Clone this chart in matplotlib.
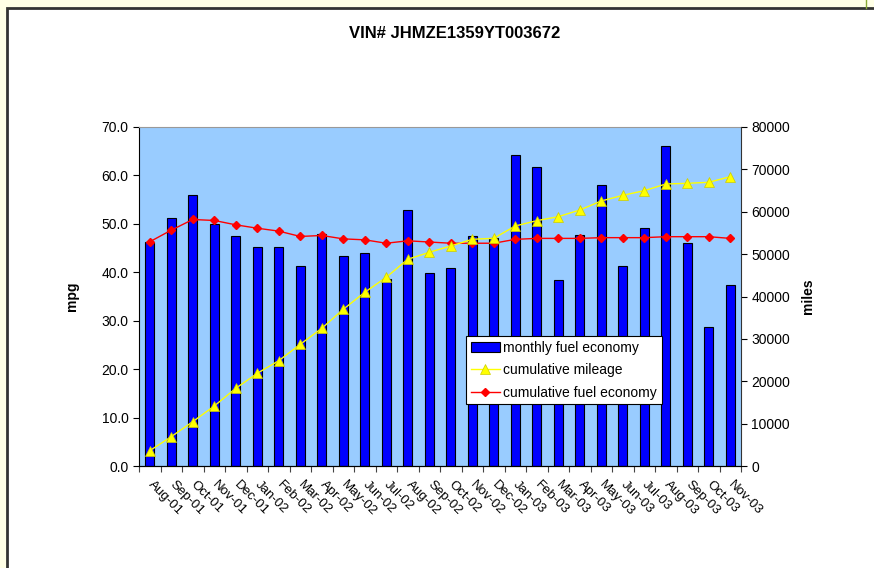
import matplotlib
matplotlib.use("Agg")
import matplotlib.pyplot as plt
from matplotlib.patches import Rectangle
import numpy as np

plt.rcParams['font.family'] = ['Liberation Sans', 'DejaVu Sans']

months = ["Aug-01", "Sep-01", "Oct-01", "Nov-01", "Dec-01", "Jan-02", "Feb-02", "Mar-02",
          "Apr-02", "May-02", "Jun-02", "Jul-02", "Aug-02", "Sep-02", "Oct-02", "Nov-02",
          "Dec-02", "Jan-03", "Feb-03", "Mar-03", "Apr-03", "May-03", "Jun-03", "Jul-03",
          "Aug-03", "Sep-03", "Oct-03", "Nov-03"]
monthly_mpg = [46.3, 51.3, 56.0, 50.0, 47.4, 45.2, 45.2, 41.2, 48.0, 43.4, 44.0, 38.7,
               52.8, 39.8, 40.9, 47.4, 47.0, 64.3, 61.8, 38.5, 47.8, 58.0, 41.2, 49.1,
               66.1, 46.0, 28.8, 37.4]
cum_miles = [3610, 6920, 10460, 14160, 18330, 21870, 24850, 28710, 32490, 36970, 40990,
             44530, 48780, 50430, 51920, 53500, 53730, 56640, 57890, 58840, 60410, 62540,
             63880, 64970, 66550, 66710, 66950, 68280]
cum_mpg = [46.3, 48.7, 50.9, 50.7, 49.8, 49.1, 48.5, 47.4, 47.6, 46.9, 46.7, 46.0,
           46.5, 46.25, 46.0, 46.0, 46.0, 46.8, 47.0, 47.0, 47.0, 47.15, 47.15, 47.15,
           47.35, 47.35, 47.35, 47.0]

W, H = 874, 568
fig = plt.figure(figsize=(W / 100, H / 100), dpi=100)
fig.patch.set_facecolor('#FFFFE6')
frame = Rectangle((7 / W, -0.1), 1.1, (H - 8) / H + 0.1, transform=fig.transFigure,
                  facecolor='white', edgecolor='#333333', linewidth=2, zorder=-10)
fig.add_artist(frame)
fig.add_artist(plt.Line2D([866 / W, 866 / W], [1 - 8 / H, 1.0], color='#88AA33', lw=1,
                          transform=fig.transFigure, zorder=-9))

ax = fig.add_axes([139 / W, (H - 466) / H, (741 - 139) / W, (466 - 127) / H])
ax.set_zorder(1)
ax.set_facecolor('#99CCFF')
x = np.arange(len(months))
bars = ax.bar(x, monthly_mpg, width=0.42, color='#0000FF', edgecolor='black', linewidth=0.8,
              label='monthly fuel economy', zorder=2)
ax.set_xlim(-0.5, len(months) - 0.5)
ax.set_ylim(0, 70)
ax.set_yticks(np.arange(0, 71, 10))
ax.set_yticklabels([f"{v:.1f}" for v in np.arange(0, 71, 10)], fontsize=10)
ax.set_xticks(np.arange(-0.5, len(months), 1))
ax.set_xticklabels([])
ax.set_xticks(x, minor=True)
ax.set_xticklabels(months, minor=True, rotation=-45, ha='left', va='center',
                   rotation_mode='anchor', fontsize=9.5)
ax.tick_params(axis='x', which='minor', length=0, pad=12)
ax.tick_params(axis='x', which='major', length=4, direction='out', color='#444444')
ax.tick_params(axis='y', length=4, direction='out')
ax.spines['top'].set_color('#999999')
ax.spines['right'].set_visible(False)
ax.set_ylabel('mpg', fontsize=10, fontweight='bold', labelpad=16)

line_mpg, = ax.plot(x, cum_mpg, color='#FF0000', marker='D', markersize=4, lw=1,
                    label='cumulative fuel economy', zorder=4)

ax2 = ax.twinx()
ax2.set_ylim(0, 80000)
ax2.set_yticks(np.arange(0, 80001, 10000))
ax2.set_yticklabels([str(v) for v in range(0, 80001, 10000)], fontsize=10)
ax2.tick_params(axis='y', length=4, direction='out')
ax2.spines['top'].set_visible(False)
ax2.spines['left'].set_visible(False)
ax2.spines['right'].set_color('#333333')
line_miles, = ax2.plot(x, cum_miles, color='#FFFF00', marker='^', markersize=7, lw=1,
                       markeredgecolor='#CCCC00', markeredgewidth=0.5,
                       label='cumulative mileage', zorder=3)
ax2.set_ylabel('miles', fontsize=10, fontweight='bold', labelpad=8)

leg = ax2.legend([bars, line_miles, line_mpg],
                 ['monthly fuel economy', 'cumulative mileage', 'cumulative fuel economy'],
                 loc='upper left', bbox_to_anchor=((466 - 139) / (741 - 139), (466 - 336) / (466 - 127)),
                 fontsize=10, frameon=True, fancybox=False, edgecolor='black', framealpha=1,
                 borderpad=0.35, labelspacing=0.6, handlelength=2.1, handletextpad=0.25,
                 borderaxespad=0)
leg.get_frame().set_linewidth(0.8)

fig.text(455 / W, 1 - 33 / H, 'VIN# JHMZE1359YT003672', ha='center',
         va='center', fontsize=12, fontweight='bold')

fig.savefig('out.png', dpi=100, facecolor=fig.get_facecolor())
